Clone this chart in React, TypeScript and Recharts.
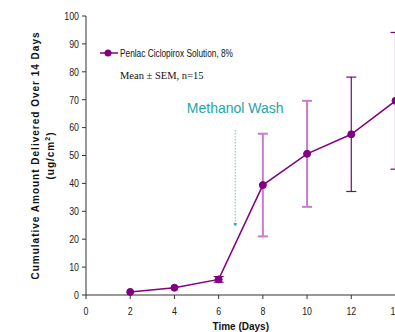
import React from 'react';
import {
  LineChart,
  Line,
  XAxis,
  YAxis,
  ErrorBar,
  ReferenceLine,
  ReferenceDot,
  Legend,
} from 'recharts';

// days sampled
const days = [2, 4, 6, 8, 10, 12, 14];
// cumulative amount (ug/cm2), mean
const meanValues = [1.1, 2.6, 5.6, 39.4, 50.6, 57.6, 69.6];
// SEM, drawn light purple for day 8/10 and dark for the rest
const semLight = [null, null, null, 18.4, 19, null, null];
const semDark = [0, 0, 1, null, null, 20.5, 24.5];

const xTicks = [0, 2, 4, 6, 8, 10, 12, 14];
const yTicks = [0, 10, 20, 30, 40, 50, 60, 70, 80, 90, 100];

const washDay = 6.75;
const washTop = 59;
const washBottom = 25;

const data = days.map((d, i) => ({
  day: d,
  mean: meanValues[i],
  errLight: semLight[i] ?? 0,
  errDark: semDark[i] ?? 0,
}));

const PURPLE = '#800080';
const LIGHT = '#c77ccc';
const TEAL = '#1fa5a5';
const SANS = 'Liberation Sans, Arial, sans-serif';

// condensed look of the original: squeeze glyphs with textLength
const NarrowTick = (props: any) => {
  const { x, y, payload, axis } = props;
  const s = String(payload.value);
  const w = s.length * 4.9;
  const tx = axis === 'y' ? x - w : x - w / 2;
  return (
    <text
      x={tx}
      y={axis === 'y' ? y + 3.8 : y + 12}
      fontFamily={SANS}
      fontSize={11}
      fill="#222"
      textLength={w}
      lengthAdjust="spacingAndGlyphs"
    >
      {s}
    </text>
  );
};

const YLabel = (props: any) => {
  const vb = props.viewBox || {};
  const cy = vb.y + vb.height / 2;
  return (
    <g>
      <text
        x={35}
        y={cy}
        transform={`rotate(-90, 35, ${cy})`}
        textAnchor="middle"
        dominantBaseline="central"
        fontFamily={SANS}
        fontWeight="bold"
        fontSize={10}
        letterSpacing={1}
        fill="#111"
      >
        Cumulative Amount Delivered Over 14 Days
      </text>
      <text
        x={50}
        y={cy}
        transform={`rotate(-90, 50, ${cy})`}
        textAnchor="middle"
        dominantBaseline="central"
        fontFamily={SANS}
        fontWeight="bold"
        fontSize={10}
        letterSpacing={1}
        fill="#111"
      >
        (ug/cm<tspan dy={-3} fontSize={7}>2</tspan><tspan dy={3}>)</tspan>
      </text>
    </g>
  );
};

const LegendBox = () => (
  <svg width={160} height={40} style={{ display: 'block' }}>
    <line x1={0} y1={8} x2={18} y2={8} stroke={PURPLE} strokeWidth={1.5} />
    <circle cx={8} cy={8} r={3.5} fill={PURPLE} />
    <text
      x={20}
      y={11.5}
      fontFamily={SANS}
      fontSize={11}
      fill="#111"
      textLength={113}
      lengthAdjust="spacingAndGlyphs"
    >
      Penlac Ciclopirox Solution, 8%
    </text>
    <text x={20} y={34} fontFamily="Liberation Serif, Times New Roman, serif" fontSize={10.5} fill="#111">
      Mean ± SEM, n=15
    </text>
  </svg>
);

const Arrow = (props: any) => {
  const { cx, cy } = props;
  return <path d={`M${cx - 2},${cy - 2} L${cx + 2},${cy - 2} L${cx},${cy + 1} Z`} fill={TEAL} />;
};

export default function App() {
  return (
    <div style={{ position: 'absolute', left: 0, top: 0, width: 395, height: 332, overflow: 'hidden', background: '#fff' }}>
      <LineChart width={400} height={332} data={data} margin={{ top: 16, right: 4.5, left: 0, bottom: 0 }}>
        <XAxis
          dataKey="day"
          type="number"
          domain={[0, 14]}
          ticks={xTicks}
          interval={0}
          tickSize={4}
          tickMargin={4}
          height={37}
          stroke="#333"
          tick={<NarrowTick axis="x" />}
          label={{
            value: 'Time (Days)',
            position: 'insideBottom',
            offset: 2,
            fill: '#111',
            fontSize: 10,
            fontWeight: 'bold',
            fontFamily: SANS,
          }}
        />
        <YAxis
          type="number"
          domain={[0, 100]}
          ticks={yTicks}
          interval={0}
          width={86}
          tickSize={4}
          tickMargin={3}
          stroke="#333"
          tick={<NarrowTick axis="y" />}
          label={<YLabel />}
        />
        <Legend
          layout="vertical"
          align="center"
          verticalAlign="middle"
          wrapperStyle={{ position: 'absolute', left: 100, top: 45, width: 160 }}
          content={() => <LegendBox />}
        />
        <ReferenceLine
          segment={[
            { x: washDay, y: washTop },
            { x: washDay, y: washBottom },
          ]}
          stroke={TEAL}
          strokeDasharray="1 2"
          strokeWidth={1}
          label={{
            value: 'Methanol Wash',
            position: 'top',
            offset: 17,
            fill: TEAL,
            fontSize: 14,
            fontFamily: SANS,
          }}
        />
        <ReferenceDot x={washDay} y={washBottom} r={2} shape={<Arrow />} />
        <Line
          dataKey="mean"
          stroke={PURPLE}
          strokeWidth={1.5}
          dot={{ r: 3.5, fill: PURPLE, stroke: PURPLE, strokeWidth: 1 }}
          isAnimationActive={false}
        >
          <ErrorBar dataKey="errLight" direction="y" width={5} stroke={LIGHT} strokeWidth={2} />
          <ErrorBar dataKey="errDark" direction="y" width={5} stroke={PURPLE} strokeWidth={1.2} />
        </Line>
      </LineChart>
    </div>
  );
}
